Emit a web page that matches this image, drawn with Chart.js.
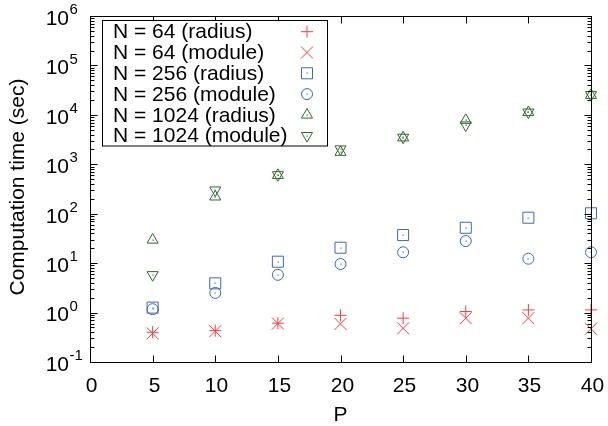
<!DOCTYPE html>
<html>
<head>
<meta charset="utf-8">
<script src="https://cdn.jsdelivr.net/npm/chart.js@4.4.1/dist/chart.umd.min.js"></script>
<style>
  html, body { margin: 0; padding: 0; background: #fff; }
  #wrap { width: 608px; height: 426px; }
</style>
</head>
<body>
<div id="wrap"><canvas id="chart" width="608" height="426"></canvas></div>
<script>
// --- data ---
const P = [5, 10, 15, 20, 25, 30, 35, 40];
const n64Radius   = [0.40, 0.43, 0.61, 0.88, 0.77, 1.05, 1.13, 1.13];
const n64Module   = [0.38, 0.42, 0.60, 0.59, 0.48, 0.77, 0.77, 0.47];
const n256Radius  = [1.26, 3.9, 10.7, 20.5, 37, 52, 83, 102];
const n256Module  = [1.17, 2.5, 5.8, 9.6, 16.6, 28, 12.3, 16.6];
const n1024Radius = [29.5, 220, 600, 1760, 3450, 7800, 11200, 25000];
const n1024Module = [5.8, 300, 610, 2030, 3500, 6200, 11300, 25500];

const X_TICKS = [0, 5, 10, 15, 20, 25, 30, 35, 40];
const Y_EXP = [-1, 0, 1, 2, 3, 4, 5, 6];

const RED = '#ff3b3b';
const BLUE = '#3a67c2';
const GREEN = '#2f6b2f';
const FONT = "'Liberation Sans', Arial, sans-serif";

const pts = vals => P.map((p, i) => ({ x: p, y: vals[i] }));

function series(label, vals, color, style, radius, rotation, dot) {
  return {
    label, data: pts(vals),
    showLine: false,
    pointStyle: style,
    pointRadius: radius,
    pointHoverRadius: radius,
    pointRotation: rotation,
    pointBorderWidth: 1,
    borderColor: color,
    backgroundColor: 'rgba(0,0,0,0)',
    clip: false,
    centerDot: dot
  };
}

const datasets = [
  series('N = 64 (radius)',    n64Radius,   RED,   'cross',    6,   0,   false),
  series('N = 64 (module)',    n64Module,   RED,   'crossRot', 8.5, 0,   false),
  series('N = 256 (radius)',   n256Radius,  BLUE,  'rect',     7.8, 0,   true),
  series('N = 256 (module)',   n256Module,  BLUE,  'circle',   5.5, 0,   true),
  series('N = 1024 (radius)',  n1024Radius, GREEN, 'triangle', 6.4, 0,   true),
  series('N = 1024 (module)',  n1024Module, GREEN, 'triangle', 6.4, 180, true)
];

// tiny dot in the middle of the open markers
const centerDots = {
  id: 'centerDots',
  afterDatasetsDraw(chart) {
    const ctx = chart.ctx;
    chart.data.datasets.forEach((ds, i) => {
      if (!ds.centerDot) return;
      ctx.fillStyle = ds.borderColor;
      chart.getDatasetMeta(i).data.forEach(el => {
        ctx.fillRect(Math.round(el.x) - 0.5, Math.round(el.y) - 0.5, 1.2, 1.2);
      });
    });
  }
};

// frame, inward ticks, tick labels, axis titles, legend
const frame = {
  id: 'frame',
  afterDraw(chart) {
    const { ctx, chartArea: a, scales: { x, y } } = chart;
    const line = (x1, y1, x2, y2) => { ctx.beginPath(); ctx.moveTo(x1, y1); ctx.lineTo(x2, y2); ctx.stroke(); };
    ctx.save();
    ctx.strokeStyle = '#000';
    ctx.lineWidth = 1;
    const L = Math.round(a.left) + 0.5, R = Math.round(a.right) + 0.5;
    const T = Math.round(a.top) + 0.5, B = Math.round(a.bottom) + 0.5;
    ctx.strokeRect(L, T, R - L, B - T);

    // x ticks + labels
    ctx.fillStyle = '#000';
    ctx.font = '21px ' + FONT;
    ctx.textAlign = 'center';
    ctx.textBaseline = 'middle';
    X_TICKS.forEach(v => {
      const px = Math.round(x.getPixelForValue(v)) + 0.5;
      line(px, B, px, B - 7);
      line(px, T, px, T + 7);
      ctx.fillText(String(v), px + 1, 386);
    });

    // y ticks (major + minor) + labels
    Y_EXP.forEach(e => {
      for (let m = 1; m <= 9; m++) {
        const v = m * Math.pow(10, e);
        if (v > 1e6 * 1.0001) break;
        const py = Math.round(y.getPixelForValue(v)) + 0.5;
        const len = m === 1 ? 7 : 4;
        line(L, py, L + len, py);
        line(R, py, R - len, py);
      }
      const py = y.getPixelForValue(Math.pow(10, e));
      ctx.font = '21px ' + FONT;
      ctx.textAlign = 'right';
      ctx.fillText('10', 69, py + 3);
      ctx.font = '15px ' + FONT;
      ctx.textAlign = 'left';
      ctx.fillText(String(e), 69.5, py - 6);
    });

    // axis titles
    ctx.font = '21px ' + FONT;
    ctx.textAlign = 'center';
    ctx.fillText('P', (a.left + a.right) / 2, 415);
    ctx.save();
    ctx.translate(18, 187);
    ctx.rotate(-Math.PI / 2);
    ctx.fillText('Computation time (sec)', 0, 0);
    ctx.restore();

    // legend
    ctx.fillStyle = '#fff';
    ctx.fillRect(102.5, 20.5, 225, 125.5);
    ctx.strokeRect(102.5, 20.5, 225, 125.5);
    ctx.textAlign = 'left';
    chart.data.datasets.forEach((ds, i) => {
      const ly = 31.7 + i * 20.8;
      ctx.fillStyle = '#000';
      ctx.font = '21px ' + FONT;
      ctx.fillText(ds.label, 113, ly + 1);
      ctx.strokeStyle = ds.borderColor;
      ctx.fillStyle = 'rgba(0,0,0,0)';
      Chart.helpers.drawPoint(ctx, {
        pointStyle: ds.pointStyle, radius: ds.pointRadius,
        rotation: ds.pointRotation, borderWidth: 1
      }, 307, ly);
      if (ds.centerDot) {
        ctx.fillStyle = ds.borderColor;
        ctx.fillRect(306.5, Math.round(ly) - 0.5, 1.2, 1.2);
      }
      ctx.strokeStyle = '#000';
    });
    ctx.restore();
  }
};

new Chart(document.getElementById('chart'), {
  type: 'scatter',
  data: { datasets },
  options: {
    responsive: false,
    animation: false,
    devicePixelRatio: 1,
    layout: { padding: { left: 90, right: 17, top: 16, bottom: 64 } },
    plugins: { legend: { display: false }, tooltip: { enabled: false } },
    scales: {
      x: { type: 'linear', min: 0, max: 40, display: false },
      y: { type: 'logarithmic', min: 0.1, max: 1e6, display: false }
    }
  },
  plugins: [centerDots, frame]
});
</script>
</body>
</html>
